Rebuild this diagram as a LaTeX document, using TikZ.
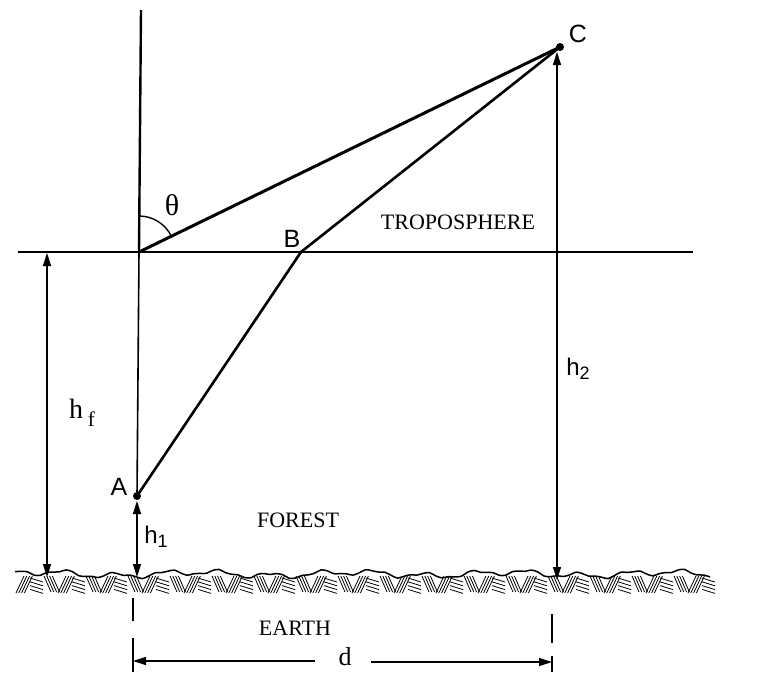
\documentclass[tikz,border=0pt]{standalone}
\usepackage{fontspec}
\setmainfont{Liberation Serif}
\setsansfont{Liberation Sans}
\usetikzlibrary{arrows.meta}
\begin{document}
\begin{tikzpicture}[x=1pt,y=1pt,
  ray/.style={line width=2.6pt},
  axis/.style={line width=1.8pt},
  dim/.style={line width=1.2pt},
  dimboth/.style={dim,{Triangle[length=13pt,width=8pt]}-{Triangle[length=13pt,width=8pt]}},
  dimone/.style={dim,-{Triangle[length=13pt,width=8pt]}},
  ext/.style={line width=1.2pt},
  pt/.style={circle,fill=black,inner sep=0pt,minimum size=8pt},
  letter/.style={font=\sffamily\fontsize{25}{25}\selectfont},
  word/.style={font=\rmfamily\fontsize{22}{22}\selectfont},
  hatch/.style={line width=0.8pt}
]
\useasboundingbox (0,0) rectangle (761,-675);
% key points
\coordinate (O) at (139,-252);
\coordinate (Top) at (141,-10);
\coordinate (Hl) at (18,-252);
\coordinate (Hr) at (693,-252);
\coordinate (B) at (301,-252);
\node[pt] (A) at (137,-496) {};
\node[pt] (C) at (560,-47) {};
% axes
\draw[line width=2.4pt] (Top) -- (O);
\draw[axis] (Hl) -- (Hr);
\draw[line width=1.6pt] (O) -- (A);
% rays
\draw[ray, line width=3pt] (O) -- (C.center);
\draw[ray] (A.center) -- (B) -- (C.center);
% theta arc
\draw[line width=1.4pt] (O) ++(0,36) arc[start angle=90,end angle=26,radius=36];
\node (theta) at (172,-205) {\rmfamily\fontsize{30}{30}\selectfont θ};
% labels
\node[letter] (lA) at (119,-487) {A};
\node[letter] (lB) at (292,-239) {B};
\node[letter] (lC) at (578,-34) {C};
\node[word] (tropo) at (458,-222) {TROPOSPHERE};
\node[word] (forest) at (298,-520) {FOREST};
\node[word] (earth) at (295,-628) {EARTH};
% ground
\coordinate (Gl) at (15,-575);
\coordinate (Gr) at (710,-575);
\draw[line width=1.5pt] plot[smooth,domain=15:710,samples=110] (\x,{-574+2.5*sin(\x*7)+1.8*sin(\x*2.3)+1.2*sin(\x*17)});
\foreach \i in {0,...,49}{
  \pgfmathsetmacro\xx{16+14*\i}
  \pgfmathtruncatemacro\m{mod(\i,3)}
  \ifnum\m=0
    \foreach \j in {0,1,2,3}{\draw[hatch] (\xx+2.8*\j,-593) -- (\xx+2.8*\j+8,-576);}
  \else\ifnum\m=1
    \foreach \j in {0,1,2,3}{\draw[hatch] (\xx,-578-3.8*\j) -- (\xx+13,-582-3.8*\j);}
  \else
    \foreach \j in {0,1,2,3}{\draw[hatch] (\xx+2.8*\j,-576) -- (\xx+2.8*\j+7,-592);}
  \fi\fi
}
% dimension h_f
\coordinate (hfT) at (47,-253);
\coordinate (hfB) at (47,-577);
\draw[dimboth] (hfT) -- (hfB);
\node (hf) at (82,-413) {\rmfamily\fontsize{28}{28}\selectfont h\,\raisebox{-8pt}{\fontsize{21}{21}\selectfont f}};
% dimension h1
\coordinate (h1T) at (137,-501);
\coordinate (h1B) at (137,-577);
\draw[dimboth] (h1T) -- (h1B);
\node[font=\sffamily\fontsize{24}{24}\selectfont] (h1) at (156,-537) {h\raisebox{-4pt}{\fontsize{18}{18}\selectfont 1}};
% dimension h2
\coordinate (h2T) at (557,-52);
\coordinate (h2B) at (557,-580);
\draw[dimboth] (h2T) -- (h2B);
\node[font=\sffamily\fontsize{24}{24}\selectfont] (h2) at (578,-369) {h\raisebox{-4pt}{\fontsize{18}{18}\selectfont 2}};
% extension lines
\coordinate (e1a) at (133,-598);
\coordinate (e1b) at (133,-621);
\coordinate (e1c) at (133,-638);
\coordinate (e1d) at (133,-672);
\coordinate (e2a) at (552,-614);
\coordinate (e2b) at (552,-643);
\coordinate (e2c) at (552,-656);
\coordinate (e2d) at (552,-672);
\draw[ext] (e1a) -- (e1b);
\draw[ext] (e1c) -- (e1d);
\draw[ext] (e2a) -- (e2b);
\draw[ext] (e2c) -- (e2d);
% dimension d
\node[font=\rmfamily\fontsize{26}{26}\selectfont] (d) at (345,-657) {d};
\coordinate (dL) at (133,-661);
\coordinate (dR) at (552,-662);
\draw[dimone] (d.west) ++(-20,-4) coordinate (dl0) -- (dL);
\draw[dimone] (d.east) ++(16,-5) coordinate (dr0) -- (dR);
\end{tikzpicture}
\end{document}
